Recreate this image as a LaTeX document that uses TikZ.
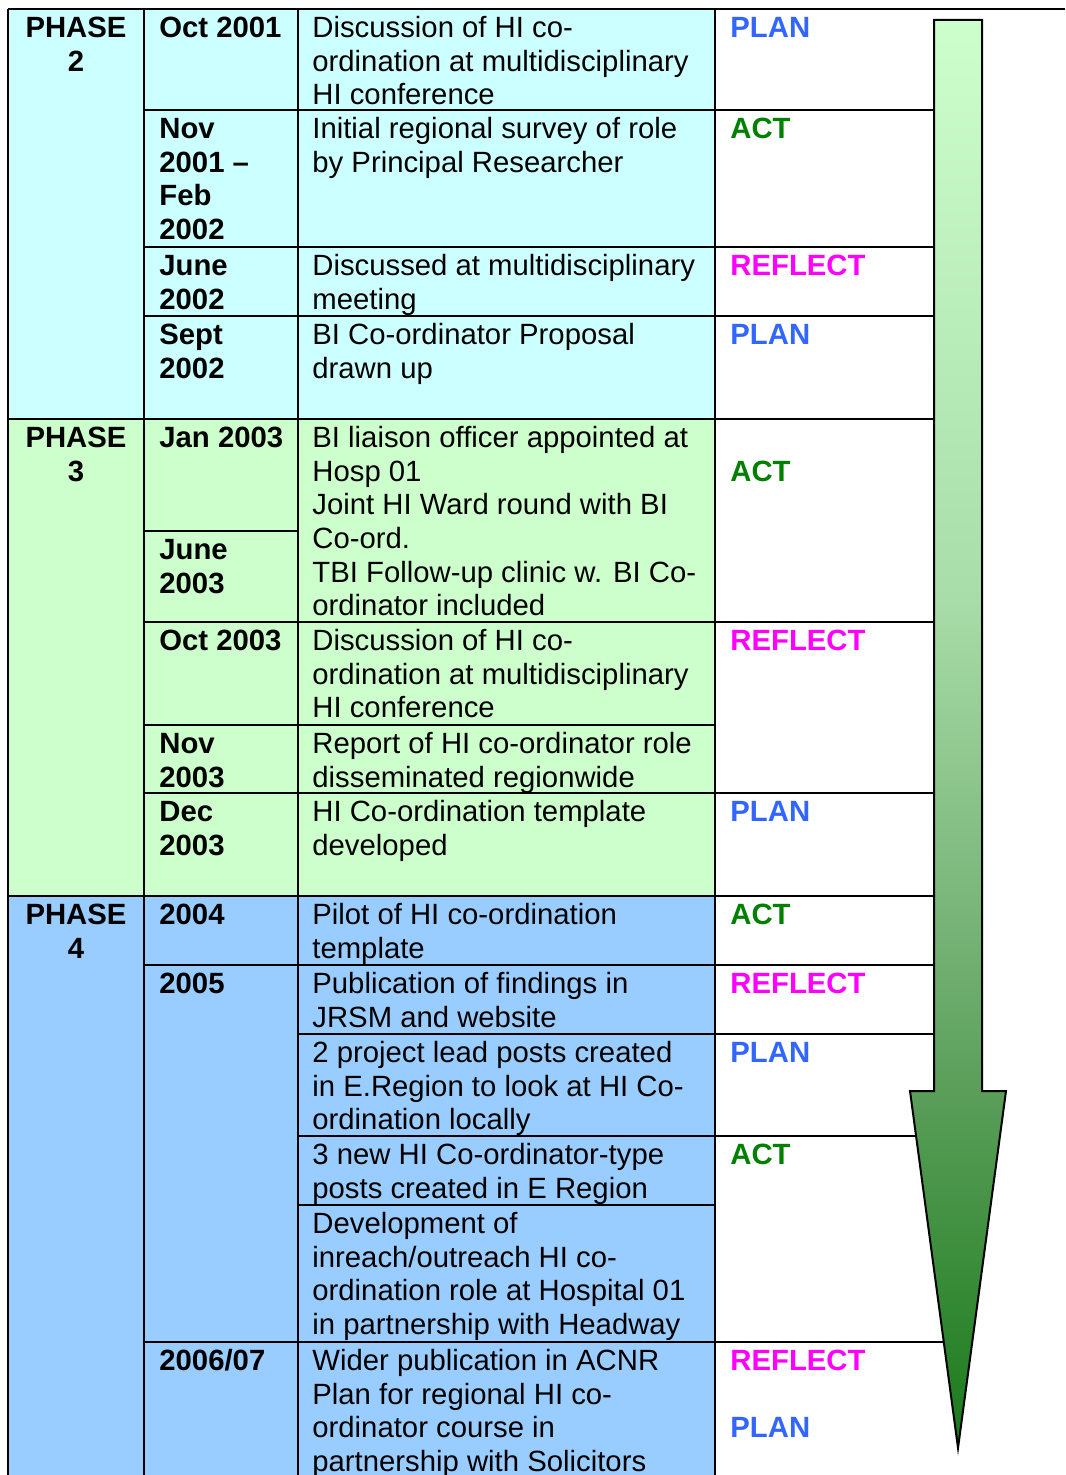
\documentclass[tikz,border=0pt]{standalone}
\usepackage{fontspec}
\setmainfont{Liberation Sans}
\definecolor{pcyan}{HTML}{CCFFFF}
\definecolor{pgreen}{HTML}{CCFFCC}
\definecolor{pblue}{HTML}{99CCFF}
\definecolor{planc}{HTML}{3366FF}
\definecolor{actc}{HTML}{008000}
\definecolor{reflc}{HTML}{FF00FF}
\definecolor{aa}{RGB}{26,122,26}
\definecolor{ab}{RGB}{90,158,90}
\definecolor{ac}{RGB}{120,180,120}
\definecolor{ad}{RGB}{168,220,168}
\definecolor{ae}{RGB}{204,255,204}
\pgfdeclareverticalshading{arrowshade}{100bp}{color(0bp)=(aa); color(25bp)=(aa); color(37.5bp)=(ab); color(43.5bp)=(ac); color(54.7bp)=(ad); color(75bp)=(ae); color(100bp)=(ae)}
\newcommand\st{\rule{0pt}{11pt}}
\newcommand\cellfont{\fontsize{14.65pt}{16.85pt}\selectfont}
\begin{document}
\begin{tikzpicture}[x=0.5pt,y=-0.5pt,
  txt/.style={anchor=north west,inner sep=0pt,align=left,font=\cellfont},
  dt/.style={anchor=north west,inner sep=0pt,align=left,font=\cellfont\bfseries},
  ph/.style={anchor=north,inner sep=0pt,align=center,font=\cellfont\bfseries},
  lab/.style={anchor=north west,inner sep=0pt,align=left,font=\cellfont\bfseries},
  plan/.style={lab,text=planc},
  act/.style={lab,text=actc},
  refl/.style={lab,text=reflc},
  grid/.style={line width=1.1pt,black},
  bigarrow/.style={draw=black,line width=1pt,shading=arrowshade}]
\useasboundingbox (0,0) rectangle (1065,1475);
% backgrounds
\fill[pcyan] (8,9) rectangle (715,419);
\fill[pgreen] (8,419) rectangle (715,896);
\fill[pblue] (8,896) rectangle (715,1480);
% grid
\draw[grid] (8,9) -- (1065,9);
\foreach \x in {8,144,298,715} \draw[grid] (\x,9) -- (\x,1480);
\foreach \y in {419,896} \draw[grid] (8,\y) -- (950,\y);
\foreach \y in {110,247,316,622,793,965,1342} \draw[grid] (144,\y) -- (950,\y);
\draw[grid] (144,531) -- (298,531);
\draw[grid] (144,725) -- (715,725);
\foreach \y in {1034,1136} \draw[grid] (298,\y) -- (950,\y);
\draw[grid] (298,1205) -- (715,1205);
% arrow
\path[bigarrow] (934,20) -- (982,20) -- (982,1091) -- (1006,1091) -- (958,1448) -- (910,1091) -- (934,1091) -- cycle;
% phase column
\node[ph] (ph2) at (76,15) {\st PHASE\\2};
\node[ph] (ph3) at (76,425) {\st PHASE\\3};
\node[ph] (ph4) at (76,902) {\st PHASE\\4};
% date column
\node[dt] (d1) at (159,15) {\st Oct 2001};
\node[dt] (d2) at (159,116) {\st Nov\\2001 –\\Feb\\2002};
\node[dt] (d3) at (159,253) {\st June\\2002};
\node[dt] (d4) at (159,322) {\st Sept\\2002};
\node[dt] (d5) at (159,425) {\st Jan 2003};
\node[dt] (d6) at (159,537) {\st June\\2003};
\node[dt] (d7) at (159,628) {\st Oct 2003};
\node[dt] (d8) at (159,731) {\st Nov\\2003};
\node[dt] (d9) at (159,799) {\st Dec\\2003};
\node[dt] (d10) at (159,902) {\st 2004};
\node[dt] (d11) at (159,971) {\st 2005};
\node[dt] (d12) at (159,1348) {\st 2006/07};
% description column
\node[txt] (t1) at (312,15) {\st Discussion of HI co-\\ordination at multidisciplinary\\HI conference};
\node[txt] (t2) at (312,116) {\st Initial regional survey of role\\by Principal Researcher};
\node[txt] (t3) at (312,253) {\st Discussed at multidisciplinary\\meeting};
\node[txt] (t4) at (312,322) {\st BI Co-ordinator Proposal\\drawn up};
\node[txt] (t5) at (312,425) {\st BI liaison officer appointed at\\Hosp 01\\Joint HI Ward round with BI\\Co-ord.\\TBI Follow-up clinic w. BI Co-\\ordinator included};
\node[txt] (t6) at (312,628) {\st Discussion of HI co-\\ordination at multidisciplinary\\HI conference};
\node[txt] (t7) at (312,731) {\st Report of HI co-ordinator role\\disseminated regionwide};
\node[txt] (t8) at (312,799) {\st HI Co-ordination template\\developed};
\node[txt] (t9) at (312,902) {\st Pilot of HI co-ordination\\template};
\node[txt] (t10) at (312,971) {\st Publication of findings in\\JRSM and website};
\node[txt] (t11) at (312,1040) {\st 2 project lead posts created\\in E.Region to look at HI Co-\\ordination locally};
\node[txt] (t12) at (312,1142) {\st 3 new HI Co-ordinator-type\\posts created in E Region};
\node[txt] (t13) at (312,1211) {\st Development of\\inreach/outreach HI co-\\ordination role at Hospital 01\\in partnership with Headway};
\node[txt] (t14) at (312,1348) {\st Wider publication in ACNR\\Plan for regional HI co-\\ordinator course in\\partnership with Solicitors};
% cycle column
\node[plan] (c1) at (730,15) {\st PLAN};
\node[act] (c2) at (730,116) {\st ACT};
\node[refl] (c3) at (730,253) {\st REFLECT};
\node[plan] (c4) at (730,322) {\st PLAN};
\node[act] (c5) at (730,459) {\st ACT};
\node[refl] (c6) at (730,628) {\st REFLECT};
\node[plan] (c7) at (730,799) {\st PLAN};
\node[act] (c8) at (730,902) {\st ACT};
\node[refl] (c9) at (730,971) {\st REFLECT};
\node[plan] (c10) at (730,1040) {\st PLAN};
\node[act] (c11) at (730,1142) {\st ACT};
\node[refl] (c12) at (730,1348) {\st REFLECT};
\node[plan] (c13) at (730,1415) {\st PLAN};
\end{tikzpicture}
\end{document}
